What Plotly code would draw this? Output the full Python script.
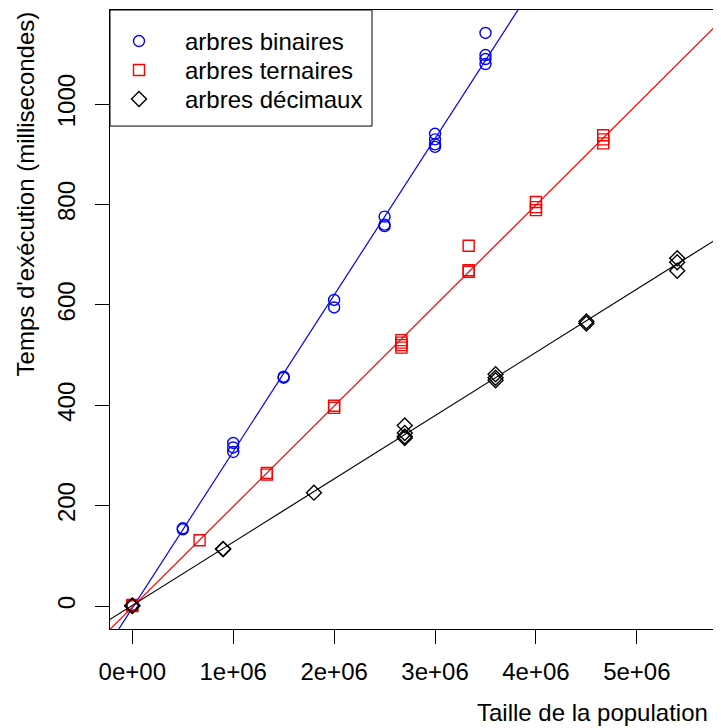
import numpy as np
import plotly.graph_objects as go

# arbres binaires
bin_x = [0, 0, 0, 0.5e6, 0.5e6, 1e6, 1e6, 1e6, 1.5e6, 1.5e6, 2e6, 2e6,
         2.5e6, 2.5e6, 2.5e6, 3e6, 3e6, 3e6, 3e6, 3.5e6, 3.5e6, 3.5e6, 3.5e6]
bin_y = [0, 1, 2, 153, 155, 325, 316, 307, 455, 457, 610, 595,
         776, 760, 757, 941, 930, 920, 915, 1142, 1098, 1090, 1080]

# arbres ternaires
ter_x = [0, 0, 666667, 1333333, 1333333, 2e6, 2e6, 2666667, 2666667, 2666667, 2666667,
         3333333, 3333333, 3333333, 4e6, 4e6, 4e6, 4666667, 4666667, 4666667]
ter_y = [0, 2, 131, 265, 262, 399, 395, 530, 525, 520, 515,
         718, 669, 666, 805, 795, 789, 938, 930, 922]

# arbres décimaux
dec_x = [0, 0, 0.9e6, 0.9e6, 1.8e6, 2.7e6, 2.7e6, 2.7e6, 2.7e6, 3.6e6, 3.6e6, 3.6e6,
         4.5e6, 4.5e6, 5.4e6, 5.4e6, 5.4e6]
dec_y = [0, 1, 113, 114, 226, 360, 345, 338, 335, 462, 455, 450,
         567, 563, 693, 685, 668]

x_ticks = [0, 1e6, 2e6, 3e6, 4e6, 5e6]
x_tick_labels = ["0e+00", "1e+06", "2e+06", "3e+06", "4e+06", "5e+06"]
y_ticks = [0, 200, 400, 600, 800, 1000]

X_RANGE = [-0.221e6, 5.814e6]
Y_RANGE = [-45.7, 1187.7]
FONT = "Liberation Sans, Arial, sans-serif"
FS = 24

# plot area in screen pixels (used by the overlay axis for the legend box)
PX_X = [110, 719]
PX_Y = [628.6, 10]

series = [
    ("arbres binaires", bin_x, bin_y, "#0000FF", "circle-open", 11),
    ("arbres ternaires", ter_x, ter_y, "#FF0000", "square-open", 11),
    ("arbres décimaux", dec_x, dec_y, "#000000", "diamond-open", 11.5),
]

fig = go.Figure()

# légende dessinée à la main (comme legend() de R)
leg_rows = [41, 70, 99]
fig.add_shape(type="rect", xref="x2", yref="y2", x0=110, x1=372, y0=10, y1=126,
              line=dict(color="black", width=1), fillcolor="white", layer="below")
for (name, xs, ys, color, symbol, size), ry in zip(series, leg_rows):
    fig.add_trace(go.Scatter(
        x=[139], y=[ry], xaxis="x2", yaxis="y2", mode="markers",
        marker=dict(symbol=symbol, size=size, color=color,
                    line=dict(color=color, width=1.4)),
        showlegend=False, hoverinfo="skip",
    ))
    fig.add_annotation(
        text=name, xref="x2", yref="y2", x=183, y=ry,
        xanchor="left", yanchor="middle", showarrow=False,
        font=dict(family=FONT, size=FS, color="black"),
    )

for name, xs, ys, color, symbol, size in series:
    fig.add_trace(go.Scatter(
        x=xs, y=ys, mode="markers", name=name,
        marker=dict(symbol=symbol, size=size, color=color,
                    line=dict(color=color, width=1.4)),
    ))
    # droite de régression (abline(lm(y ~ x)))
    b, a = np.polyfit(np.array(xs, dtype=float), np.array(ys, dtype=float), 1)
    lx = np.array([-1e6, 7e6])
    fig.add_trace(go.Scatter(
        x=lx, y=a + b * lx, mode="lines", showlegend=False,
        line=dict(color=color, width=1.2), hoverinfo="skip",
    ))

axis_style = dict(
    ticks="outside", ticklen=14, tickwidth=1, tickcolor="black",
    showline=True, linecolor="black", linewidth=1, mirror=True,
    showgrid=False, zeroline=False,
    tickfont=dict(family=FONT, size=FS, color="black"),
)
fig.update_layout(
    xaxis=dict(range=X_RANGE, tickvals=x_ticks, ticktext=x_tick_labels,
               ticklabelstandoff=7, **axis_style),
    yaxis=dict(range=Y_RANGE, tickvals=y_ticks, tickangle=-90,
               ticklabelstandoff=10, **axis_style),
    xaxis2=dict(range=PX_X, overlaying="x", visible=False, fixedrange=True),
    yaxis2=dict(range=PX_Y, overlaying="y", visible=False, fixedrange=True),
)

fig.add_annotation(
    text="Taille de la population", xref="paper", yref="paper",
    x=1.0, y=0, xanchor="right", yanchor="middle", xshift=-9, yshift=-83,
    showarrow=False, font=dict(family=FONT, size=FS, color="black"),
)
fig.add_annotation(
    text="Temps d'exécution (millisecondes)", xref="paper", yref="paper",
    x=0, y=0.702, xanchor="center", yanchor="middle", xshift=-85,
    textangle=-90, showarrow=False,
    font=dict(family=FONT, size=FS, color="black"),
)

fig.update_layout(
    width=713, height=720,
    margin=dict(l=102, r=2, t=2, b=99.4),
    paper_bgcolor="white", plot_bgcolor="white",
    showlegend=False,
)

fig.write_html("out.html")
